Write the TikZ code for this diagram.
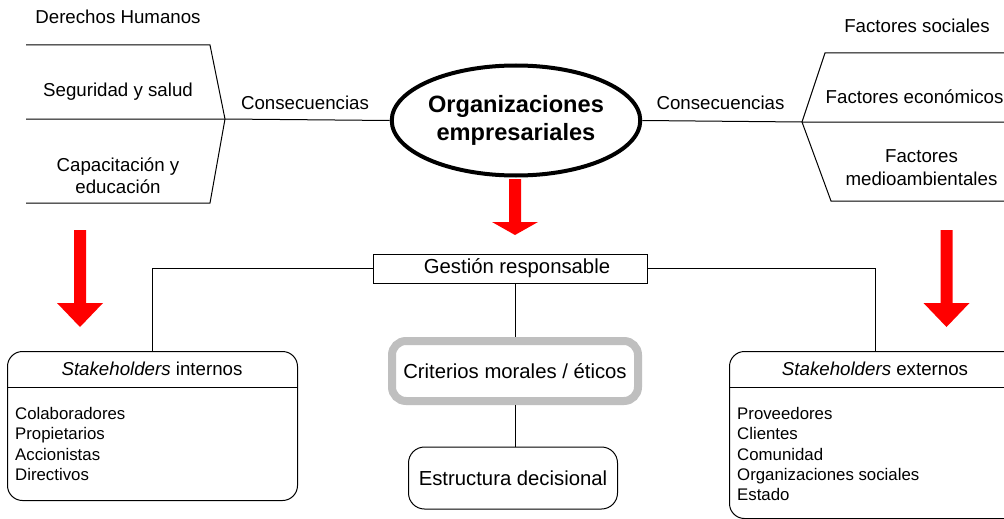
\documentclass[tikz,border=0pt]{standalone}
\usepackage{fontspec}
\setmainfont{Liberation Sans}
\usetikzlibrary{shapes.geometric}
\tikzset{
  txt/.style={font=\fontsize{18.7}{22.4}\selectfont, align=center, inner sep=0},
  lst/.style={font=\fontsize{16.8}{20.4}\selectfont, align=left, inner sep=0, anchor=north west},
  mid/.style={font=\fontsize{20.3}{24}\selectfont, inner sep=0},
  ln/.style={line width=1pt, draw=black},
  roundbox/.style={ln, rounded corners=15pt, inner sep=0},
  redarrow/.style={fill=red, draw=none},
}
\begin{document}
\begin{tikzpicture}[x=1pt,y=-1pt]
\clip (0,0) rectangle (1004,519);
\fill[white] (0,0) rectangle (1004,519);

% central ellipse
\node[ellipse, draw, line width=4pt, minimum width=244pt, minimum height=110pt, inner sep=0,
      align=center, font=\fontsize{23.6}{28.4}\selectfont\bfseries] (org) at (516,120.5)
      {Organizaciones\\empresariales};

% left bracket
\coordinate (la) at (225,119);
\coordinate (l1) at (26,45);
\coordinate (l2) at (210,45);
\coordinate (l3) at (26,119);
\coordinate (l4) at (26,203);
\coordinate (l5) at (210,203);
\draw[ln] (l1) -- (l2) -- (la) -- (l5) -- (l4);
\draw[ln] (l3) -- (la) -- (org.west);

% right bracket
\coordinate (ra) at (802,122);
\coordinate (r1) at (1010,53);
\coordinate (r2) at (825,53);
\coordinate (r3) at (1010,122);
\coordinate (r4) at (1010,201);
\coordinate (r5) at (831,201);
\draw[ln] (r1) -- (r2) -- (ra) -- (r5) -- (r4);
\draw[ln] (r3) -- (ra) -- (org.east);

% bracket texts
\node[txt, anchor=base] (dh) at (118,24) {Derechos Humanos};
\node[txt, anchor=base] (ss) at (118,96.7) {Seguridad y salud};
\node[txt] (ce) at (118,176) {Capacitación y\\educación};
\node[txt, anchor=base] (consl) at (305,110) {Consecuencias};
\node[txt, anchor=base] (consr) at (720.5,110) {Consecuencias};
\node[txt, anchor=base] (fs) at (917,33) {Factores sociales};
\node[txt, anchor=base west] (fe) at (825.5,103.5) {Factores económicos};
\node[txt] (fm) at (921.5,167.5) {Factores\\medioambientales};

% red arrows
\fill[redarrow] (509,179) -- (521,179) -- (521,222) -- (538,222) -- (515,235) -- (492,222) -- (509,222) -- cycle;
\fill[redarrow] (74,230) -- (86,230) -- (86,303) -- (103,303) -- (80,327) -- (57,303) -- (74,303) -- cycle;
\fill[redarrow] (940.5,230) -- (952.5,230) -- (952.5,303) -- (969.5,303) -- (946.5,327) -- (923.5,303) -- (940.5,303) -- cycle;

% gestion responsable
\node[ln, draw, minimum width=274pt, minimum height=29pt, mid] (gest) at (510,268.5) {\hspace*{14pt}Gestión responsable};

% stakeholders boxes
\node[roundbox, draw, minimum width=290pt, minimum height=149pt, anchor=north west] (int) at (7,351) {};
\node[roundbox, draw, minimum width=292pt, minimum height=167pt, anchor=north west] (ext) at (729,351) {};
\draw[ln] (int.west |- 0,387) -- (int.east |- 0,387);
\draw[ln] (ext.west |- 0,387) -- (ext.east |- 0,387);
\node[txt] (inth) at (152,369) {\textit{Stakeholders} internos};
\node[txt] (exth) at (875,369) {\textit{Stakeholders} externos};
\node[lst] (intl) at (15,407) {Colaboradores\\Propietarios\\Accionistas\\Directivos};
\node[lst] (extl) at (737,407) {Proveedores\\Clientes\\Comunidad\\Organizaciones sociales\\Estado};

\draw[ln] (gest.west) -| (int.north);
\draw[ln] (gest.east) -| (ext.north);

% criterios and estructura
\node[draw=black!25, line width=8pt, rounded corners=14pt, minimum width=246pt, minimum height=60pt, mid] (crit) at (515,371) {Criterios morales / éticos};
\node[roundbox, draw, rounded corners=16pt, minimum width=209pt, minimum height=62pt, mid] (estr) at (513,478) {Estructura decisional};

\draw[ln] (crit.north |- gest.south) -- (crit.north);
\draw[ln] (crit.south) -- (crit.south |- estr.north);
\end{tikzpicture}
\end{document}
